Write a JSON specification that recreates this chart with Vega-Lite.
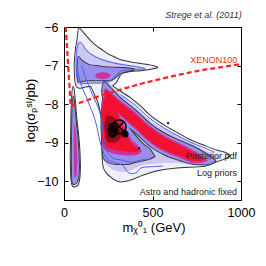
{
"$schema":"https://vega.github.io/schema/vega-lite/v6.json",
"width":177,"height":173,"autosize":"none",
"padding":{"left":64,"top":27,"right":25,"bottom":66},
"background":"white",
"config":{
"view":{"stroke":"#000","strokeWidth":1},
"axis":{"grid":false,"domainColor":"#000","domainWidth":1,"tickColor":"#000","tickSize":-4,"tickWidth":1,"labelColor":"#000","titleColor":"#000","labelFont":"Liberation Sans","titleFont":"Liberation Sans","labelFontSize":12.5,"titleFontSize":13,"titleFontWeight":"normal","labelFlush":false,"labelOverlap":false},
"text":{"font":"Liberation Sans"}
},
"datasets":{
"areas":[
{"s":"W","l":1,"x":60,"lo":-7.0,"hi":-7.0},
{"s":"W","l":1,"x":62,"lo":-7.25,"hi":-6.85},
{"s":"W","l":1,"x":66,"lo":-7.45,"hi":-6.62},
{"s":"W","l":1,"x":75,"lo":-7.55,"hi":-6.38},
{"s":"W","l":1,"x":85,"lo":-7.57,"hi":-6.03},
{"s":"W","l":1,"x":95,"lo":-7.57,"hi":-6.08},
{"s":"W","l":1,"x":113,"lo":-7.55,"hi":-6.18},
{"s":"W","l":1,"x":169,"lo":-7.52,"hi":-6.45},
{"s":"W","l":1,"x":220,"lo":-7.55,"hi":-6.62},
{"s":"W","l":1,"x":245,"lo":-7.55,"hi":-6.7},
{"s":"W","l":1,"x":290,"lo":-7.45,"hi":-6.8},
{"s":"W","l":1,"x":320,"lo":-7.22,"hi":-6.86},
{"s":"W","l":1,"x":339,"lo":-7.17,"hi":-6.88},
{"s":"W","l":1,"x":377,"lo":-7.14,"hi":-6.92},
{"s":"W","l":1,"x":433,"lo":-7.12,"hi":-6.96},
{"s":"W","l":1,"x":490,"lo":-7.08,"hi":-7.0},
{"s":"W","l":1,"x":525,"lo":-7.05,"hi":-7.04},
{"s":"B","l":1,"x":150,"lo":-7.5,"hi":-7.5},
{"s":"B","l":1,"x":175,"lo":-7.75,"hi":-7.5},
{"s":"B","l":1,"x":200,"lo":-8.05,"hi":-7.5},
{"s":"B","l":1,"x":212,"lo":-8.35,"hi":-7.5},
{"s":"B","l":1,"x":218,"lo":-9.3,"hi":-7.48},
{"s":"B","l":1,"x":224,"lo":-9.62,"hi":-7.45},
{"s":"B","l":1,"x":241,"lo":-9.77,"hi":-7.45},
{"s":"B","l":1,"x":264,"lo":-9.87,"hi":-7.5},
{"s":"B","l":1,"x":288,"lo":-9.95,"hi":-7.58},
{"s":"B","l":1,"x":320,"lo":-10.0,"hi":-7.68},
{"s":"B","l":1,"x":377,"lo":-9.95,"hi":-7.85},
{"s":"B","l":1,"x":430,"lo":-9.85,"hi":-8.05},
{"s":"B","l":1,"x":486,"lo":-9.76,"hi":-8.3},
{"s":"B","l":1,"x":565,"lo":-9.68,"hi":-8.55},
{"s":"B","l":1,"x":637,"lo":-9.64,"hi":-8.74},
{"s":"B","l":1,"x":712,"lo":-9.62,"hi":-8.93},
{"s":"B","l":1,"x":787,"lo":-9.6,"hi":-9.07},
{"s":"B","l":1,"x":862,"lo":-9.48,"hi":-9.2},
{"s":"B","l":1,"x":919,"lo":-9.38,"hi":-9.28},
{"s":"B","l":1,"x":935,"lo":-9.33,"hi":-9.33},
{"s":"S","l":1,"x":38,"lo":-9.4,"hi":-9.4},
{"s":"S","l":1,"x":42,"lo":-9.95,"hi":-8.3},
{"s":"S","l":1,"x":47,"lo":-10.08,"hi":-7.75},
{"s":"S","l":1,"x":52,"lo":-10.12,"hi":-7.55},
{"s":"S","l":1,"x":58,"lo":-10.13,"hi":-7.75},
{"s":"S","l":1,"x":66,"lo":-10.12,"hi":-8.2},
{"s":"S","l":1,"x":74,"lo":-10.1,"hi":-8.55},
{"s":"S","l":1,"x":82,"lo":-10.02,"hi":-8.9},
{"s":"S","l":1,"x":88,"lo":-9.85,"hi":-9.3},
{"s":"S","l":1,"x":90,"lo":-9.6,"hi":-9.6},
{"s":"W","l":2,"x":64,"lo":-7.2,"hi":-7.0},
{"s":"W","l":2,"x":68,"lo":-7.48,"hi":-6.6},
{"s":"W","l":2,"x":80,"lo":-7.5,"hi":-6.35},
{"s":"W","l":2,"x":95,"lo":-7.5,"hi":-6.4},
{"s":"W","l":2,"x":130,"lo":-7.47,"hi":-6.6},
{"s":"W","l":2,"x":180,"lo":-7.47,"hi":-6.75},
{"s":"W","l":2,"x":240,"lo":-7.47,"hi":-6.85},
{"s":"W","l":2,"x":300,"lo":-7.3,"hi":-6.92},
{"s":"W","l":2,"x":360,"lo":-7.15,"hi":-6.98},
{"s":"W","l":2,"x":420,"lo":-7.11,"hi":-7.03},
{"s":"W","l":2,"x":460,"lo":-7.08,"hi":-7.07},
{"s":"B","l":2,"x":215,"lo":-8.6,"hi":-7.6},
{"s":"B","l":2,"x":225,"lo":-9.45,"hi":-7.4},
{"s":"B","l":2,"x":250,"lo":-9.6,"hi":-7.43},
{"s":"B","l":2,"x":290,"lo":-9.72,"hi":-7.62},
{"s":"B","l":2,"x":330,"lo":-9.75,"hi":-7.79},
{"s":"B","l":2,"x":380,"lo":-9.7,"hi":-7.98},
{"s":"B","l":2,"x":430,"lo":-9.6,"hi":-8.18},
{"s":"B","l":2,"x":486,"lo":-9.55,"hi":-8.42},
{"s":"B","l":2,"x":565,"lo":-9.52,"hi":-8.65},
{"s":"B","l":2,"x":640,"lo":-9.52,"hi":-8.81},
{"s":"B","l":2,"x":712,"lo":-9.56,"hi":-9.0},
{"s":"B","l":2,"x":787,"lo":-9.56,"hi":-9.17},
{"s":"B","l":2,"x":840,"lo":-9.5,"hi":-9.27},
{"s":"B","l":2,"x":880,"lo":-9.36,"hi":-9.36},
{"s":"W","l":3,"x":75,"lo":-7.2,"hi":-7.2},
{"s":"W","l":3,"x":80,"lo":-7.42,"hi":-6.78},
{"s":"W","l":3,"x":100,"lo":-7.4,"hi":-6.87},
{"s":"W","l":3,"x":140,"lo":-7.38,"hi":-6.98},
{"s":"W","l":3,"x":200,"lo":-7.38,"hi":-7.02},
{"s":"W","l":3,"x":260,"lo":-7.38,"hi":-7.05},
{"s":"W","l":3,"x":320,"lo":-7.2,"hi":-7.06},
{"s":"W","l":3,"x":380,"lo":-7.12,"hi":-7.08},
{"s":"W","l":3,"x":400,"lo":-7.1,"hi":-7.1},
{"s":"T","l":3,"x":215,"lo":-7.65,"hi":-7.65},
{"s":"T","l":3,"x":225,"lo":-7.92,"hi":-7.42},
{"s":"T","l":3,"x":250,"lo":-8.09,"hi":-7.52},
{"s":"T","l":3,"x":316,"lo":-8.4,"hi":-7.83},
{"s":"T","l":3,"x":401,"lo":-8.72,"hi":-8.15},
{"s":"T","l":3,"x":486,"lo":-9.08,"hi":-8.51},
{"s":"T","l":3,"x":571,"lo":-9.31,"hi":-8.77},
{"s":"T","l":3,"x":655,"lo":-9.45,"hi":-8.95},
{"s":"T","l":3,"x":740,"lo":-9.55,"hi":-9.12},
{"s":"T","l":3,"x":800,"lo":-9.56,"hi":-9.28},
{"s":"T","l":3,"x":840,"lo":-9.52,"hi":-9.4},
{"s":"T","l":3,"x":855,"lo":-9.47,"hi":-9.47},
{"s":"B","l":3,"x":212,"lo":-8.6,"hi":-8.6},
{"s":"B","l":3,"x":218,"lo":-9.2,"hi":-7.95},
{"s":"B","l":3,"x":225,"lo":-9.4,"hi":-7.85},
{"s":"B","l":3,"x":250,"lo":-9.5,"hi":-7.95},
{"s":"B","l":3,"x":300,"lo":-9.55,"hi":-8.2},
{"s":"B","l":3,"x":350,"lo":-9.55,"hi":-8.5},
{"s":"B","l":3,"x":400,"lo":-9.5,"hi":-8.8},
{"s":"B","l":3,"x":450,"lo":-9.45,"hi":-9.05},
{"s":"B","l":3,"x":490,"lo":-9.4,"hi":-9.2},
{"s":"B","l":3,"x":510,"lo":-9.35,"hi":-9.35},
{"s":"S","l":3,"x":44,"lo":-9.5,"hi":-9.5},
{"s":"S","l":3,"x":47,"lo":-10.0,"hi":-8.3},
{"s":"S","l":3,"x":52,"lo":-10.06,"hi":-7.8},
{"s":"S","l":3,"x":58,"lo":-10.07,"hi":-8.0},
{"s":"S","l":3,"x":66,"lo":-10.05,"hi":-8.4},
{"s":"S","l":3,"x":74,"lo":-10.0,"hi":-8.75},
{"s":"S","l":3,"x":81,"lo":-9.9,"hi":-9.15},
{"s":"S","l":3,"x":85,"lo":-9.6,"hi":-9.6},
{"s":"W","l":4,"x":175,"lo":-7.26,"hi":-7.26},
{"s":"W","l":4,"x":190,"lo":-7.33,"hi":-7.2},
{"s":"W","l":4,"x":220,"lo":-7.35,"hi":-7.17},
{"s":"W","l":4,"x":250,"lo":-7.32,"hi":-7.2},
{"s":"W","l":4,"x":265,"lo":-7.27,"hi":-7.27},
{"s":"T","l":4,"x":222,"lo":-7.64,"hi":-7.64},
{"s":"T","l":4,"x":235,"lo":-7.85,"hi":-7.59},
{"s":"T","l":4,"x":260,"lo":-8.01,"hi":-7.67},
{"s":"T","l":4,"x":316,"lo":-8.3,"hi":-7.9},
{"s":"T","l":4,"x":401,"lo":-8.64,"hi":-8.2},
{"s":"T","l":4,"x":486,"lo":-9.0,"hi":-8.56},
{"s":"T","l":4,"x":571,"lo":-9.24,"hi":-8.82},
{"s":"T","l":4,"x":655,"lo":-9.39,"hi":-9.01},
{"s":"T","l":4,"x":740,"lo":-9.52,"hi":-9.22},
{"s":"T","l":4,"x":775,"lo":-9.52,"hi":-9.32},
{"s":"T","l":4,"x":800,"lo":-9.49,"hi":-9.41},
{"s":"T","l":4,"x":815,"lo":-9.46,"hi":-9.46},
{"s":"B","l":4,"x":210,"lo":-8.5,"hi":-8.5},
{"s":"B","l":4,"x":218,"lo":-9.1,"hi":-7.9},
{"s":"B","l":4,"x":235,"lo":-9.2,"hi":-7.75},
{"s":"B","l":4,"x":260,"lo":-9.25,"hi":-7.9},
{"s":"B","l":4,"x":300,"lo":-9.3,"hi":-8.15},
{"s":"B","l":4,"x":340,"lo":-9.32,"hi":-8.55},
{"s":"B","l":4,"x":380,"lo":-9.33,"hi":-8.9},
{"s":"B","l":4,"x":420,"lo":-9.3,"hi":-9.08},
{"s":"B","l":4,"x":440,"lo":-9.22,"hi":-9.22},
{"s":"S","l":4,"x":55,"lo":-9.0,"hi":-9.0},
{"s":"S","l":4,"x":58,"lo":-9.85,"hi":-8.5},
{"s":"S","l":4,"x":64,"lo":-9.9,"hi":-8.6},
{"s":"S","l":4,"x":70,"lo":-9.85,"hi":-8.9},
{"s":"S","l":4,"x":74,"lo":-9.6,"hi":-9.3},
{"s":"S","l":4,"x":76,"lo":-9.5,"hi":-9.5},
{"s":"T","l":5,"x":226,"lo":-7.67,"hi":-7.67},
{"s":"T","l":5,"x":240,"lo":-7.83,"hi":-7.65},
{"s":"T","l":5,"x":260,"lo":-7.96,"hi":-7.72},
{"s":"T","l":5,"x":316,"lo":-8.25,"hi":-7.95},
{"s":"T","l":5,"x":401,"lo":-8.59,"hi":-8.25},
{"s":"T","l":5,"x":486,"lo":-8.95,"hi":-8.61},
{"s":"T","l":5,"x":571,"lo":-9.19,"hi":-8.87},
{"s":"T","l":5,"x":655,"lo":-9.34,"hi":-9.06},
{"s":"T","l":5,"x":740,"lo":-9.47,"hi":-9.27},
{"s":"T","l":5,"x":775,"lo":-9.47,"hi":-9.37},
{"s":"T","l":5,"x":790,"lo":-9.44,"hi":-9.44},
{"s":"B","l":5,"x":212,"lo":-8.5,"hi":-8.5},
{"s":"B","l":5,"x":220,"lo":-9.0,"hi":-8.0},
{"s":"B","l":5,"x":235,"lo":-9.1,"hi":-7.8},
{"s":"B","l":5,"x":260,"lo":-9.15,"hi":-7.95},
{"s":"B","l":5,"x":300,"lo":-9.2,"hi":-8.2},
{"s":"B","l":5,"x":340,"lo":-9.22,"hi":-8.65},
{"s":"B","l":5,"x":380,"lo":-9.25,"hi":-9.0},
{"s":"B","l":5,"x":420,"lo":-9.22,"hi":-9.15},
{"s":"B","l":5,"x":430,"lo":-9.19,"hi":-9.19},
{"s":"B","l":6,"x":228,"lo":-8.6,"hi":-8.6},
{"s":"B","l":6,"x":238,"lo":-8.92,"hi":-8.3},
{"s":"B","l":6,"x":262,"lo":-9.0,"hi":-8.3},
{"s":"B","l":6,"x":298,"lo":-8.98,"hi":-8.42},
{"s":"B","l":6,"x":322,"lo":-8.85,"hi":-8.62},
{"s":"B","l":6,"x":335,"lo":-8.75,"hi":-8.75},
{"s":"B","l":7,"x":246,"lo":-8.66,"hi":-8.66},
{"s":"B","l":7,"x":256,"lo":-8.85,"hi":-8.5},
{"s":"B","l":7,"x":280,"lo":-8.88,"hi":-8.48},
{"s":"B","l":7,"x":302,"lo":-8.78,"hi":-8.6},
{"s":"B","l":7,"x":312,"lo":-8.7,"hi":-8.7}
],
"blue":[
{"b":"B1","o":1,"x":70,"y":-6.95},{"b":"B1","o":2,"x":85,"y":-7.3},{"b":"B1","o":3,"x":100,"y":-7.54},{"b":"B1","o":4,"x":125,"y":-7.8},{"b":"B1","o":5,"x":147,"y":-8.06},{"b":"B1","o":6,"x":168,"y":-8.3},{"b":"B1","o":7,"x":185,"y":-8.57},{"b":"B1","o":8,"x":200,"y":-8.9},{"b":"B1","o":9,"x":215,"y":-9.15},{"b":"B1","o":10,"x":245,"y":-9.43},{"b":"B1","o":11,"x":290,"y":-9.52},{"b":"B1","o":12,"x":330,"y":-9.58},{"b":"B1","o":13,"x":367,"y":-9.78},{"b":"B1","o":14,"x":405,"y":-9.78},{"b":"B1","o":15,"x":435,"y":-9.65},{"b":"B1","o":16,"x":490,"y":-9.62},{"b":"B1","o":17,"x":560,"y":-9.6},
{"b":"B2","o":1,"x":100,"y":-7.0},{"b":"B2","o":2,"x":125,"y":-7.35},{"b":"B2","o":3,"x":147,"y":-7.6},{"b":"B2","o":4,"x":170,"y":-7.85},{"b":"B2","o":5,"x":194,"y":-8.1},{"b":"B2","o":6,"x":215,"y":-8.45},{"b":"B2","o":7,"x":225,"y":-8.9},{"b":"B2","o":8,"x":245,"y":-9.25},{"b":"B2","o":9,"x":280,"y":-9.4},{"b":"B2","o":10,"x":330,"y":-9.45},{"b":"B2","o":11,"x":382,"y":-9.5},{"b":"B2","o":12,"x":430,"y":-9.45},{"b":"B2","o":13,"x":480,"y":-9.42},
{"b":"B3","o":1,"x":70,"y":-6.7},{"b":"B3","o":2,"x":80,"y":-6.45},{"b":"B3","o":3,"x":95,"y":-6.4},{"b":"B3","o":4,"x":130,"y":-6.62},{"b":"B3","o":5,"x":200,"y":-6.82},{"b":"B3","o":6,"x":300,"y":-6.95},{"b":"B3","o":7,"x":400,"y":-7.02},{"b":"B3","o":8,"x":460,"y":-7.08},{"b":"B3","o":9,"x":400,"y":-7.1},{"b":"B3","o":10,"x":320,"y":-7.15},{"b":"B3","o":11,"x":250,"y":-7.42},{"b":"B3","o":12,"x":160,"y":-7.45},{"b":"B3","o":13,"x":100,"y":-7.45},{"b":"B3","o":14,"x":75,"y":-7.3},{"b":"B3","o":15,"x":70,"y":-6.7},
{"b":"B4","o":1,"x":320,"y":-7.75},{"b":"B4","o":2,"x":401,"y":-8.02},{"b":"B4","o":3,"x":486,"y":-8.37},{"b":"B4","o":4,"x":565,"y":-8.62},{"b":"B4","o":5,"x":637,"y":-8.8},{"b":"B4","o":6,"x":712,"y":-8.98},{"b":"B4","o":7,"x":787,"y":-9.12},{"b":"B4","o":8,"x":850,"y":-9.24}
],
"xen":[
{"x":10,"y":-6.0},{"x":38,"y":-8.05},{"x":60,"y":-8.02},{"x":109,"y":-7.93},{"x":200,"y":-7.79},{"x":298,"y":-7.65},{"x":450,"y":-7.45},{"x":644,"y":-7.24},{"x":800,"y":-7.1},{"x":1000,"y":-6.96}
],
"txt":[
{"t":"Posterior pdf","x":977,"y":-9.43,"g":"leg"},
{"t":"Log priors","x":977,"y":-9.87,"g":"leg"},
{"t":"Astro and hadronic fixed","x":977,"y":-10.35,"g":"leg"},
{"t":"XENON100","x":979,"y":-6.925,"g":"xen"},
{"t":"Strege et al. (2011)","x":1004,"y":-5.76,"g":"ttl"}
],
"pts":[
{"k":"bf","x":311,"y":-8.58},
{"k":"mean","x":345,"y":-8.77},
{"k":"speck","x":588,"y":-8.49},
{"k":"speck","x":424,"y":-9.14}
]
},
"layer":[
{"layer":[
{"data":{"name":"areas"},"transform":[{"filter":"datum.l==1"}],
"mark":{"type":"area","interpolate":"monotone","fillOpacity":0,"stroke":"#333","strokeWidth":2},
"encoding":{
"x":{"field":"x","type":"quantitative","scale":{"domain":[0,1000],"nice":false,"zero":false},
"axis":{"values":[0,500,1000],"format":"d","labelPadding":10,"title":"mᵪ⁰₁ (GeV)","titleX":89.5,"titleY":31,"titleAlign":"center","titleBaseline":"alphabetic"}},
"y":{"field":"lo","type":"quantitative","stack":null,"scale":{"domain":[-10.48,-6],"nice":false,"zero":false},
"axis":{"values":[-10,-9,-8,-7,-6],"labelPadding":10,"title":"log(σₚˢᴵ/pb)","titleX":-30,"titleY":83,"titleAngle":-90,"titleAlign":"center","titleBaseline":"alphabetic"}},
"y2":{"field":"hi"},"detail":{"field":"s"}}},
{"data":{"name":"areas"},"transform":[{"filter":"datum.l==1"}],
"mark":{"type":"area","interpolate":"monotone","color":"#efeefb"},
"encoding":{"x":{"field":"x","type":"quantitative"},"y":{"field":"lo","type":"quantitative","stack":null},"y2":{"field":"hi"},"detail":{"field":"s"}}},
{"data":{"name":"areas"},"transform":[{"filter":"datum.l==2"}],
"mark":{"type":"area","interpolate":"monotone","color":"#cbc6f3"},
"encoding":{"x":{"field":"x","type":"quantitative"},"y":{"field":"lo","type":"quantitative","stack":null},"y2":{"field":"hi"},"detail":{"field":"s"}}},
{"data":{"name":"areas"},"transform":[{"filter":"datum.l==3"}],
"mark":{"type":"area","interpolate":"monotone","fillOpacity":0,"stroke":"#3a3a3a","strokeWidth":2},
"encoding":{"x":{"field":"x","type":"quantitative"},"y":{"field":"lo","type":"quantitative","stack":null},"y2":{"field":"hi"},"detail":{"field":"s"}}},
{"data":{"name":"areas"},"transform":[{"filter":"datum.l==3"}],
"mark":{"type":"area","interpolate":"monotone","color":"#978fea"},
"encoding":{"x":{"field":"x","type":"quantitative"},"y":{"field":"lo","type":"quantitative","stack":null},"y2":{"field":"hi"},"detail":{"field":"s"}}},
{"data":{"name":"areas"},"transform":[{"filter":"datum.l==4"}],
"mark":{"type":"area","interpolate":"monotone","color":"#c8359e"},
"encoding":{"x":{"field":"x","type":"quantitative"},"y":{"field":"lo","type":"quantitative","stack":null},"y2":{"field":"hi"},"detail":{"field":"s"}}},
{"data":{"name":"areas"},"transform":[{"filter":"datum.l==5"}],
"mark":{"type":"area","interpolate":"monotone","color":"#f2112e"},
"encoding":{"x":{"field":"x","type":"quantitative"},"y":{"field":"lo","type":"quantitative","stack":null},"y2":{"field":"hi"},"detail":{"field":"s"}}},
{"data":{"name":"areas"},"transform":[{"filter":"datum.l==6"}],
"mark":{"type":"area","interpolate":"monotone","color":"#9c0a1c"},
"encoding":{"x":{"field":"x","type":"quantitative"},"y":{"field":"lo","type":"quantitative","stack":null},"y2":{"field":"hi"},"detail":{"field":"s"}}},
{"data":{"name":"areas"},"transform":[{"filter":"datum.l==7"}],
"mark":{"type":"area","interpolate":"monotone","color":"#1c0306"},
"encoding":{"x":{"field":"x","type":"quantitative"},"y":{"field":"lo","type":"quantitative","stack":null},"y2":{"field":"hi"},"detail":{"field":"s"}}},
{"data":{"name":"blue"},
"mark":{"type":"line","interpolate":"catmull-rom","color":"#4c5ff2","strokeWidth":1},
"encoding":{"x":{"field":"x","type":"quantitative"},"y":{"field":"y","type":"quantitative"},"detail":{"field":"b"},"order":{"field":"o","type":"quantitative"}}},
{"data":{"name":"xen"},
"mark":{"type":"line","color":"#ff2424","strokeWidth":2.3,"strokeDash":[5,3]},
"encoding":{"x":{"field":"x","type":"quantitative"},"y":{"field":"y","type":"quantitative"}}},
{"data":{"name":"txt"},"transform":[{"filter":"datum.g=='leg'"}],
"mark":{"type":"text","align":"right","baseline":"alphabetic","fontSize":9,"color":"#222"},
"encoding":{"x":{"field":"x","type":"quantitative"},"y":{"field":"y","type":"quantitative"},"text":{"field":"t"}}},
{"data":{"name":"txt"},"transform":[{"filter":"datum.g=='xen'"}],
"mark":{"type":"text","align":"right","baseline":"alphabetic","fontSize":9,"color":"#ff2a2a"},
"encoding":{"x":{"field":"x","type":"quantitative"},"y":{"field":"y","type":"quantitative"},"text":{"field":"t"}}},
{"data":{"name":"txt"},"transform":[{"filter":"datum.g=='ttl'"}],
"mark":{"type":"text","align":"right","baseline":"alphabetic","fontSize":9,"fontStyle":"italic","color":"#333"},
"encoding":{"x":{"field":"x","type":"quantitative"},"y":{"field":"y","type":"quantitative"},"text":{"field":"t"}}},
{"data":{"name":"pts"},"transform":[{"filter":"datum.k=='bf'"}],
"mark":{"type":"point","shape":"circle","size":196,"filled":false,"color":"#000","strokeWidth":1.5,"opacity":1},
"encoding":{"x":{"field":"x","type":"quantitative"},"y":{"field":"y","type":"quantitative"}}},
{"data":{"name":"pts"},"transform":[{"filter":"datum.k=='bf'"}],
"mark":{"type":"point","shape":"M-0.7,-0.7L0.7,0.7M-0.7,0.7L0.7,-0.7","size":196,"filled":false,"color":"#000","strokeWidth":1.3,"opacity":1},
"encoding":{"x":{"field":"x","type":"quantitative"},"y":{"field":"y","type":"quantitative"}}},
{"data":{"name":"pts"},"transform":[{"filter":"datum.k=='mean'"}],
"mark":{"type":"circle","size":49,"color":"#000","opacity":1},
"encoding":{"x":{"field":"x","type":"quantitative"},"y":{"field":"y","type":"quantitative"}}},
{"data":{"name":"pts"},"transform":[{"filter":"datum.k=='speck'"}],
"mark":{"type":"circle","size":5,"color":"#000","opacity":1},
"encoding":{"x":{"field":"x","type":"quantitative"},"y":{"field":"y","type":"quantitative"}}}
]},
{"data":{"name":"xen"},
"mark":{"type":"point","opacity":0},
"encoding":{
"x":{"field":"x","type":"quantitative","axis":{"orient":"top","labels":false,"title":null,"values":[0,500,1000],"domain":false}},
"y":{"field":"y","type":"quantitative","axis":{"orient":"right","labels":false,"title":null,"values":[-10,-9,-8,-7,-6],"domain":false}}}}
],
"resolve":{"axis":{"x":"independent","y":"independent"}}
}
